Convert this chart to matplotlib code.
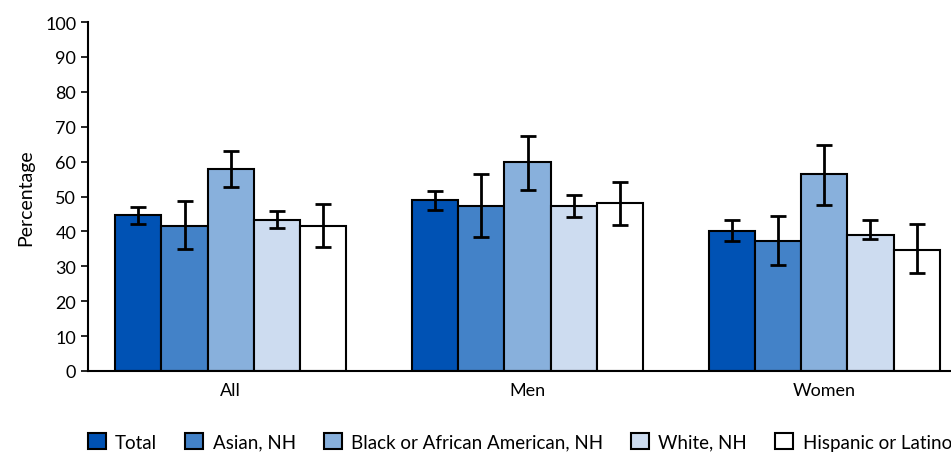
import numpy as np
import matplotlib.pyplot as plt
from matplotlib.patches import Patch

plt.rcParams['font.family'] = ['Lato', 'DejaVu Sans']

groups = ["All", "Men", "Women"]
series = ["Total", "Asian, NH", "Black or African American, NH", "White, NH", "Hispanic or Latino"]
colors = ["#0052b4", "#4382c8", "#88b0dc", "#cddcf0", "#ffffff"]

# values per series, one entry per group (All, Men, Women)
total = [44.6, 48.9, 40.1]
asian = [41.6, 47.3, 37.2]
black = [57.9, 59.8, 56.5]
white = [43.4, 47.3, 39.0]
hispanic = [41.5, 48.0, 34.6]

# 95% CI bounds
total_lo = [42.0, 46.2, 37.2]
total_hi = [47.0, 51.5, 43.2]
asian_lo = [34.9, 38.3, 30.4]
asian_hi = [48.7, 56.4, 44.5]
black_lo = [52.7, 51.8, 47.6]
black_hi = [63.0, 67.2, 64.8]
white_lo = [40.9, 44.0, 37.9]
white_hi = [45.8, 50.5, 43.3]
hisp_lo = [35.4, 41.8, 28.0]
hisp_hi = [47.9, 54.2, 42.0]

vals = [total, asian, black, white, hispanic]
los = [total_lo, asian_lo, black_lo, white_lo, hisp_lo]
his = [total_hi, asian_hi, black_hi, white_hi, hisp_hi]

fig = plt.figure(figsize=(9.51, 4.56), dpi=100)
ax = fig.add_axes([88 / 951, 84 / 456, 879 / 951, 349 / 456])

x = np.arange(len(groups))
w = 0.155
for i in range(len(series)):
    xs = x + (i - 2) * w
    v = np.array(vals[i])
    err = [v - np.array(los[i]), np.array(his[i]) - v]
    ax.bar(xs, v, width=w, color=colors[i], edgecolor="black", linewidth=1.5, zorder=2)
    ax.errorbar(xs, v, yerr=err, fmt="none", ecolor="black", elinewidth=2,
                capsize=5.5, capthick=2, zorder=3)

ax.set_xlim(-0.48, 2.48)
ax.set_ylim(0, 100)
ax.set_yticks(range(0, 101, 10))
ax.set_xticks(x)
ax.set_xticklabels(groups, fontsize=13)
ax.tick_params(axis="x", length=0, pad=8)
ax.tick_params(axis="y", labelsize=13, length=5, width=1.2)
ax.set_ylabel("Percentage", fontsize=14, labelpad=8)
for s in ["top", "right"]:
    ax.spines[s].set_visible(False)
ax.spines["left"].set_linewidth(1.5)
ax.spines["bottom"].set_linewidth(1.5)

handles = [Patch(facecolor=c, edgecolor="black", linewidth=1.5) for c in colors]
fig.legend(handles, series, loc="center left", bbox_to_anchor=(88 / 951, 1 - 443 / 456),
           ncol=5, frameon=False, fontsize=13.5, handlelength=0.95, handleheight=0.95,
           handletextpad=0.5, columnspacing=1.5, borderpad=0, borderaxespad=0)

fig.savefig("out.png", dpi=100)
